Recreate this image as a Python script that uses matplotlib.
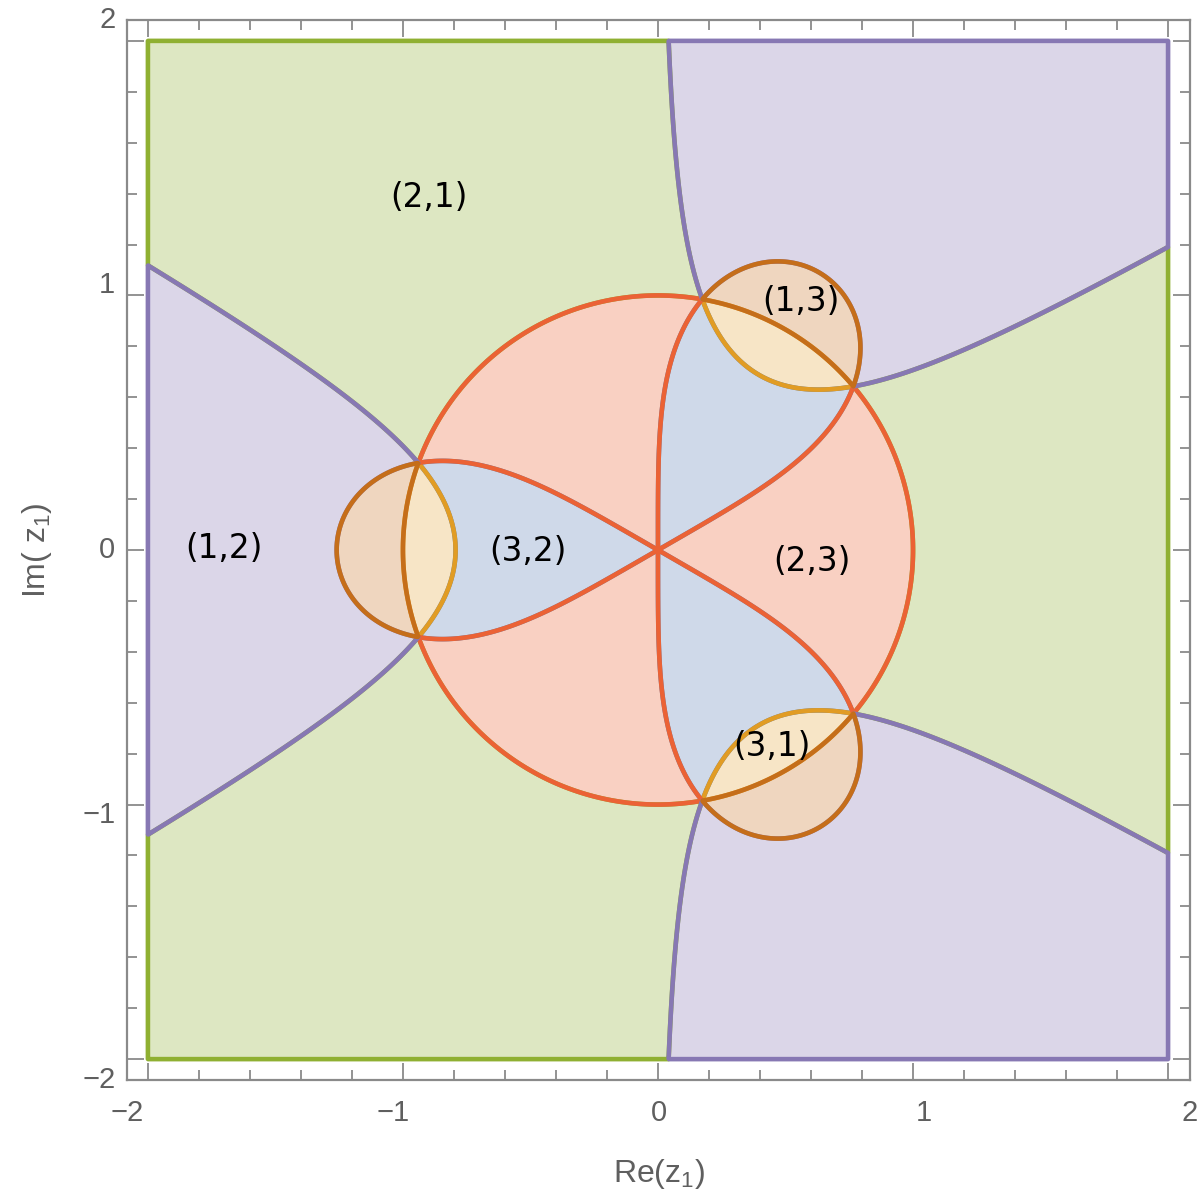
import numpy as np
import matplotlib
matplotlib.use("Agg")
import matplotlib.pyplot as plt
from matplotlib.colors import to_rgb

# Each region is one ordering (largest, middle, smallest) of the three
# moduli  f1 = |z^3|,  f2 = |1 + z^3|,  f3 = 1.
orderings = [(3, 2, 1), (3, 1, 2), (2, 1, 3), (2, 3, 1), (1, 2, 3), (1, 3, 2)]
region_labels = ["(3,2)", "(3,1)", "(2,1)", "(2,3)", "(1,2)", "(1,3)"]
label_x = [-0.51, 0.447, -0.898, 0.604, -1.702, 0.561]
label_y = [-0.004, -0.773, 1.384, -0.047, 0.004, 0.976]

# plotting domain and tick labels
x_range = (-2.0, 2.0)
y_range = (-2.0, 2.0)
tick_text = ["\u22122", "\u22121", "0", "1", "2"]

# region colours (boundary colour; fills are the same colour, faded)
line_colors = ["#5e81b5", "#e19c24", "#8fb032", "#eb6235", "#8778b3", "#c56e1a"]
fill_alphas = [0.3, 0.26, 0.3, 0.3, 0.3, 0.28]


def faded(c, a):
    r, g, b = to_rgb(c)
    return (1 - a + a * r, 1 - a + a * g, 1 - a + a * b)


fig = plt.figure(figsize=(12, 11.98), dpi=100)
ax = fig.add_axes([127 / 1200, 1 - 1080 / 1198, 1063 / 1200, 1060 / 1198])

pad = 0.04
n = 1801
xs = np.linspace(x_range[0] - pad, x_range[1] + pad, n)
ys = np.linspace(y_range[0] - pad, y_range[1] + pad, n)
X, Y = np.meshgrid(xs, ys)
W = (X + 1j * Y) ** 3
F = {1: np.abs(W), 2: np.abs(1 + W), 3: np.ones_like(X)}
inside = np.minimum(np.minimum(X - x_range[0], x_range[1] - X),
                    np.minimum(Y - y_range[0], y_range[1] - Y))

G = []
for a, b, c in orderings:
    g = np.minimum(F[a] - F[b], F[b] - F[c])
    G.append(np.minimum(g, inside))

for g, col, al in zip(G, line_colors, fill_alphas):
    ax.contourf(X, Y, g, levels=[0, 1e9], colors=[faded(col, al)],
                antialiased=True, zorder=1)
for k, (g, col) in enumerate(zip(G, line_colors)):
    ax.contour(X, Y, g, levels=[0], colors=[col], linewidths=3.3,
               zorder=2 + k)

for t, x, y in zip(region_labels, label_x, label_y):
    ax.text(x, y, t, ha="center", va="center", fontsize=23.5,
            family="DejaVu Sans", color="black", zorder=20)

xm = 0.082
ax.set_xlim(x_range[0] - xm, x_range[1] + xm + 0.004)
ax.set_ylim(y_range[0] - xm, y_range[1] + xm)

frame_col = "#8a8a8a"
for s in ax.spines.values():
    s.set_color(frame_col)
    s.set_linewidth(1.6)

major = np.arange(-2, 3, 1)
minor = np.arange(-2, 2.01, 0.2)
ax.set_xticks(major)
ax.set_yticks(major)
ax.set_xticks(minor, minor=True)
ax.set_yticks(minor, minor=True)
ax.tick_params(which="both", direction="in", top=True, right=True,
               labelbottom=False, labelleft=False, color=frame_col, width=1.3)
ax.tick_params(which="major", length=12)
ax.tick_params(which="minor", length=7)

lab_kw = dict(fontsize=21, family="Liberation Sans", color="#5f5f5f")
for i, t in enumerate(tick_text):
    f = i / (len(tick_text) - 1)
    ax.text(f, -0.031, t, transform=ax.transAxes, ha="center", va="center", **lab_kw)
    ax.text(-0.011, f, t, transform=ax.transAxes, ha="right", va="center", **lab_kw)

ax.text(0.5, -0.089, r"Re($\mathregular{z_1}$)", transform=ax.transAxes,
        ha="center", va="center", fontsize=23, family="Liberation Sans", color="#5f5f5f")
ax.text(-0.085, 0.5, r"Im( $\mathregular{z_1}$)", transform=ax.transAxes, rotation=90,
        ha="center", va="center", fontsize=23, family="Liberation Sans", color="#5f5f5f")

fig.savefig("out.png", dpi=100)
